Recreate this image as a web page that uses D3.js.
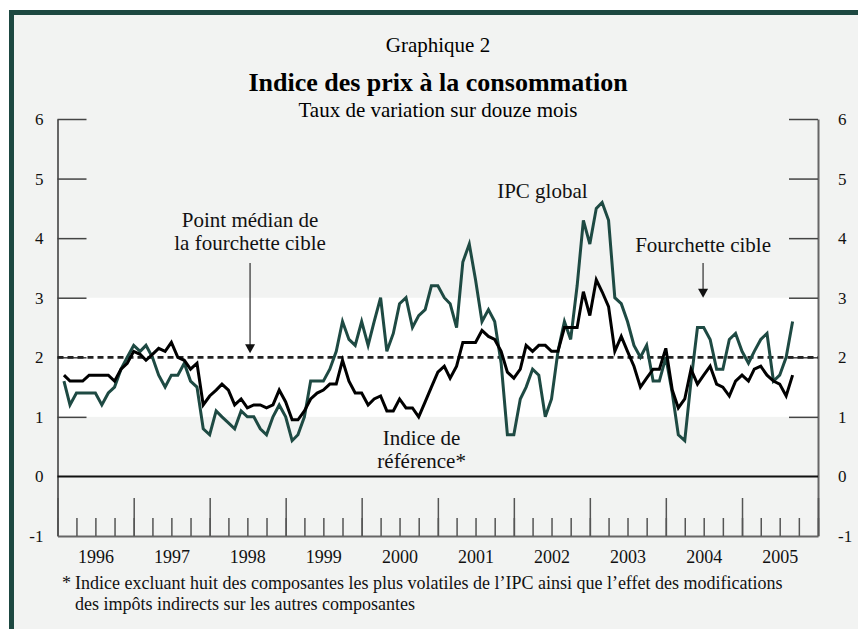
<!DOCTYPE html>
<html>
<head>
<meta charset="utf-8">
<script src="https://cdn.jsdelivr.net/npm/d3@7"></script>
<style>
body { margin: 0; background: #fff; }
svg { display: block; font-family: "Liberation Serif", "Times New Roman", serif; }
</style>
</head>
<body>
<svg></svg>
<script>

var screen = {width: 858, height: 629}
var plot = {left: 57.5, right: 818, top: 119, bottom: 536}

// taux de variation sur douze mois, janvier 1996 - août 2005
var ipcGlobal = [
  1.6, 1.2, 1.4, 1.4, 1.4, 1.4, 1.2, 1.4, 1.5, 1.8, 2.0, 2.2,
  2.1, 2.2, 2.0, 1.7, 1.5, 1.7, 1.7, 1.9, 1.6, 1.5, 0.8, 0.7,
  1.1, 1.0, 0.9, 0.8, 1.1, 1.0, 1.0, 0.8, 0.7, 1.0, 1.2, 1.0,
  0.6, 0.7, 1.0, 1.6, 1.6, 1.6, 1.8, 2.1, 2.6, 2.3, 2.2, 2.6,
  2.2, 2.6, 3.0, 2.1, 2.4, 2.9, 3.0, 2.5, 2.7, 2.8, 3.2, 3.2,
  3.0, 2.9, 2.5, 3.6, 3.9, 3.3, 2.6, 2.8, 2.6, 1.9, 0.7, 0.7,
  1.3, 1.5, 1.8, 1.7, 1.0, 1.3, 2.1, 2.6, 2.3, 3.2, 4.3, 3.9,
  4.5, 4.6, 4.3, 3.0, 2.9, 2.6, 2.2, 2.0, 2.2, 1.6, 1.6, 2.0,
  1.4, 0.7, 0.6, 1.6, 2.5, 2.5, 2.3, 1.8, 1.8, 2.3, 2.4, 2.1,
  1.9, 2.1, 2.3, 2.4, 1.6, 1.7, 2.0, 2.6
]

var indiceReference = [
  1.7, 1.6, 1.6, 1.6, 1.7, 1.7, 1.7, 1.7, 1.6, 1.8, 1.9, 2.1,
  2.05, 1.95, 2.05, 2.15, 2.1, 2.25, 2.0, 1.95, 1.8, 1.9, 1.2, 1.35,
  1.45, 1.55, 1.45, 1.2, 1.3, 1.15, 1.2, 1.2, 1.15, 1.2, 1.45, 1.25,
  0.95, 0.95, 1.1, 1.3, 1.4, 1.45, 1.55, 1.55, 1.95, 1.6, 1.4, 1.4,
  1.2, 1.3, 1.35, 1.1, 1.1, 1.3, 1.15, 1.15, 1.0, 1.25, 1.5, 1.75,
  1.85, 1.65, 1.85, 2.25, 2.25, 2.25, 2.45, 2.35, 2.3, 2.1, 1.75, 1.65,
  1.8, 2.2, 2.1, 2.2, 2.2, 2.1, 2.1, 2.5, 2.5, 2.5, 3.1, 2.7,
  3.3, 3.1, 2.85, 2.1, 2.35, 2.1, 1.85, 1.5, 1.65, 1.8, 1.8, 2.15,
  1.45, 1.15, 1.3, 1.8, 1.55, 1.7, 1.85, 1.55, 1.5, 1.35, 1.6, 1.7,
  1.6, 1.8, 1.85, 1.7, 1.6, 1.55, 1.35, 1.7
]

var years = [1996, 1997, 1998, 1999, 2000, 2001, 2002, 2003, 2004, 2005]
var yTicks = [6, 5, 4, 3, 2, 1, 0, -1]
var fourchette = [1, 3]
var pointMedian = 2

var months = ipcGlobal.map(function(d, i) { return new Date(1996, i + 1, 1) })

var svg = d3.select("svg")
    .attr("width", screen.width)
    .attr("height", screen.height)

var xScale = d3.scaleTime()
    .domain([new Date(years[0], 0, 1), new Date(years[years.length - 1] + 1, 0, 1)])
    .range([plot.left, plot.right])

var yScale = d3.scaleLinear()
    .domain([-1, 6])
    .range([plot.bottom, plot.top])

// fond et cadre
svg.append("rect")
    .attr("x", 9).attr("y", 10)
    .attr("width", screen.width - 9).attr("height", screen.height - 10)
    .attr("fill", "#f2f3f2")
svg.append("rect")
    .attr("x", 9).attr("y", 10)
    .attr("width", screen.width - 9).attr("height", 5)
    .attr("fill", "#1d4841")
svg.append("rect")
    .attr("x", 9).attr("y", 10)
    .attr("width", 5).attr("height", screen.height - 10)
    .attr("fill", "#1d4841")

// fourchette cible
svg.append("rect")
    .attr("x", plot.left)
    .attr("y", yScale(fourchette[1]))
    .attr("width", plot.right - plot.left)
    .attr("height", yScale(fourchette[0]) - yScale(fourchette[1]))
    .attr("fill", "#ffffff")

// titres
svg.append("text")
    .attr("x", 438).attr("y", 52)
    .attr("text-anchor", "middle")
    .style("font-size", "21px")
    .text("Graphique 2")
svg.append("text")
    .attr("x", 438).attr("y", 91)
    .attr("text-anchor", "middle")
    .style("font-size", "26px")
    .style("font-weight", "bold")
    .text("Indice des prix à la consommation")
svg.append("text")
    .attr("x", 438).attr("y", 117)
    .attr("text-anchor", "middle")
    .style("font-size", "21px")
    .text("Taux de variation sur douze mois")

// axes verticaux
var leftTicks = svg.append("g")
    .attr("transform", "translate(" + plot.left + ",0)")
    .call(d3.axisRight(yScale).tickValues(yTicks.filter(function(d) { return d > 0 }))
        .tickSize(29).tickSizeOuter(0).tickFormat(""))
var rightTicks = svg.append("g")
    .attr("transform", "translate(" + plot.right + ",0)")
    .call(d3.axisLeft(yScale).tickValues(yTicks.filter(function(d) { return d > 0 }))
        .tickSize(29).tickSizeOuter(0).tickFormat(""))

svg.selectAll(".domain").attr("stroke", "#666").attr("stroke-width", 2)
leftTicks.selectAll(".tick line").attr("stroke", "#444").attr("stroke-width", 1.5)
rightTicks.selectAll(".tick line").attr("stroke", "#444").attr("stroke-width", 1.5)

var tickText = function(d) { return String(d) }

var leftLabels = svg.append("g")
    .attr("transform", "translate(" + plot.left + ",0)")
    .call(d3.axisLeft(yScale).tickValues(yTicks).tickSize(0).tickPadding(14).tickFormat(tickText))
var rightLabels = svg.append("g")
    .attr("transform", "translate(" + plot.right + ",0)")
    .call(d3.axisRight(yScale).tickValues(yTicks).tickSize(0).tickPadding(20).tickFormat(tickText))
leftLabels.select(".domain").remove()
rightLabels.select(".domain").remove()
svg.selectAll(".tick text")
    .style("font-family", "Liberation Serif, serif")
    .style("font-size", "17px")
    .attr("fill", "#111")

// axe du bas : trimestres et années
var quarterAxis = svg.append("g")
    .attr("transform", "translate(0," + plot.bottom + ")")
    .call(d3.axisTop(xScale).ticks(d3.timeMonth.every(3)).tickSize(18).tickSizeOuter(0).tickFormat(""))
var yearAxis = svg.append("g")
    .attr("transform", "translate(0," + plot.bottom + ")")
    .call(d3.axisTop(xScale).ticks(d3.timeYear.every(1)).tickSize(38).tickSizeOuter(0).tickFormat(""))
quarterAxis.selectAll("line").attr("stroke", "#555").attr("stroke-width", 1.5)
yearAxis.selectAll("line").attr("stroke", "#555").attr("stroke-width", 1.5)
quarterAxis.select(".domain").attr("stroke", "#666").attr("stroke-width", 2)
yearAxis.select(".domain").remove()

var yearLabels = svg.append("g")
    .attr("transform", "translate(0," + plot.bottom + ")")
    .call(d3.axisBottom(xScale)
        .tickValues(years.map(function(yr) { return new Date(yr, 6, 1) }))
        .tickSize(0).tickPadding(14)
        .tickFormat(d3.timeFormat("%Y")))
yearLabels.select(".domain").remove()
yearLabels.selectAll("text")
    .style("font-family", "Liberation Serif, serif")
    .style("font-size", "18px")
    .attr("fill", "#111")

// ligne zéro
svg.append("line")
    .attr("x1", plot.left).attr("x2", plot.right)
    .attr("y1", yScale(0)).attr("y2", yScale(0))
    .attr("stroke", "#111").attr("stroke-width", 2)

// point médian
svg.append("line")
    .attr("x1", plot.left).attr("x2", plot.right)
    .attr("y1", yScale(pointMedian)).attr("y2", yScale(pointMedian))
    .attr("stroke", "#222").attr("stroke-width", 2.7)
    .attr("stroke-dasharray", "6,4")

// séries
var lineGenerator = d3.line()
    .x(function(d, i) { return xScale(months[i]) })
    .y(function(d) { return yScale(d) })

svg.append("path")
    .datum(ipcGlobal)
    .attr("d", lineGenerator)
    .attr("fill", "none")
    .attr("stroke", "#1e4a43")
    .attr("stroke-width", 3)

svg.append("path")
    .datum(indiceReference)
    .attr("d", lineGenerator)
    .attr("fill", "none")
    .attr("stroke", "#000")
    .attr("stroke-width", 3)

// annotations
var label = function(xv, yv, lines) {
    var t = svg.append("text")
        .attr("text-anchor", "middle")
        .style("font-size", "21px")
        .attr("fill", "#111")
    lines.forEach(function(s, i) {
        t.append("tspan")
            .attr("x", xScale(xv))
            .attr("y", yScale(yv) + i * 23)
            .text(s)
    })
}

var arrow = function(xv, y1, yTip) {
    var xp = xScale(xv)
    svg.append("line")
        .attr("x1", xp).attr("x2", xp)
        .attr("y1", y1).attr("y2", yTip - 8)
        .attr("stroke", "#555").attr("stroke-width", 1.5)
    svg.append("path")
        .attr("d", "M" + (xp - 5) + "," + (yTip - 9) + "L" + (xp + 5) + "," + (yTip - 9) + "L" + xp + "," + yTip + "Z")
        .attr("fill", "#111")
}

var medianDate = new Date(1998, 6, 14)
var cibleDate = new Date(2004, 5, 28)

label(medianDate, 4.19, ["Point médian de", "la fourchette cible"])
arrow(medianDate, 263, yScale(pointMedian) - 4)

label(new Date(2002, 4, 18), 4.68, ["IPC global"])

label(cibleDate, 3.77, ["Fourchette cible"])
arrow(cibleDate, 263, yScale(fourchette[1]))

label(new Date(2000, 9, 15), 0.52, ["Indice de", "référence*"])

// note
svg.append("text")
    .attr("x", 62).attr("y", 589)
    .style("font-size", "18px")
    .attr("fill", "#111")
    .text("*")
svg.append("text")
    .attr("x", 75).attr("y", 589)
    .style("font-size", "18px")
    .attr("fill", "#111")
    .text("Indice excluant huit des composantes les plus volatiles de l\u2019IPC ainsi que l\u2019effet des modifications")
svg.append("text")
    .attr("x", 75).attr("y", 610)
    .style("font-size", "18px")
    .attr("fill", "#111")
    .text("des impôts indirects sur les autres composantes")

</script>
</body>
</html>
